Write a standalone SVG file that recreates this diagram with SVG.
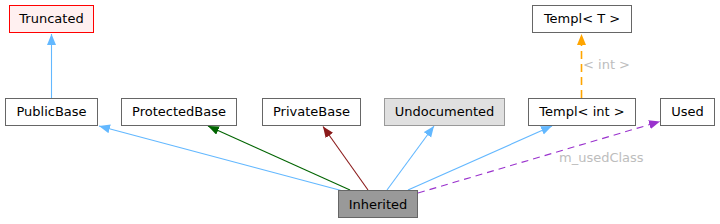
<svg xmlns="http://www.w3.org/2000/svg" width="720" height="224" viewBox="0 0 720 224">
<defs>
<style>
.n rect{fill:#fff;stroke:#666;stroke-width:1}
.n text{font-family:"DejaVu Sans",sans-serif;font-size:13px;fill:#000;text-anchor:middle}
.lbl{font-family:"DejaVu Sans",sans-serif;font-size:13px;fill:#bdbdbd}
.e{fill:none;stroke-width:1.1}
.blue{stroke:#63b8ff}
.green{stroke:#006400}
.red{stroke:#8b1a1a}
.purple{stroke:#9a32cd;stroke-dasharray:7,5}
.orange{stroke:#ffa500;stroke-width:1.6;stroke-dasharray:8,5}
</style>
<marker id="ab" markerUnits="userSpaceOnUse" markerWidth="12" markerHeight="10" refX="11" refY="4.5" orient="auto"><path d="M0,0 L11,4.5 L0,9 Z" fill="#63b8ff"/></marker>
<marker id="ag" markerUnits="userSpaceOnUse" markerWidth="12" markerHeight="10" refX="11" refY="4.5" orient="auto"><path d="M0,0 L11,4.5 L0,9 Z" fill="#006400"/></marker>
<marker id="ar" markerUnits="userSpaceOnUse" markerWidth="12" markerHeight="10" refX="11" refY="4.5" orient="auto"><path d="M0,0 L11,4.5 L0,9 Z" fill="#8b1a1a"/></marker>
<marker id="ap" markerUnits="userSpaceOnUse" markerWidth="12" markerHeight="10" refX="11" refY="4.5" orient="auto"><path d="M0,0 L11,4.5 L0,9 Z" fill="#9a32cd"/></marker>
<marker id="ao" markerUnits="userSpaceOnUse" markerWidth="12" markerHeight="10" refX="11" refY="4.5" orient="auto"><path d="M0,0 L11,4.5 L0,9 Z" fill="#ffa500"/></marker>
</defs>
<g id="edges">
<path class="e blue" d="M51.5,98 L51.5,34" marker-end="url(#ab)"/>
<path class="e blue" d="M343,191 L99,126" marker-end="url(#ab)"/>
<path class="e green" d="M350,190 L208,126" marker-end="url(#ag)"/>
<path class="e red" d="M368,190 L323,126.5" marker-end="url(#ar)"/>
<path class="e blue" d="M387,190 L434,126" marker-end="url(#ab)"/>
<path class="e blue" d="M408,190 L552,126" marker-end="url(#ab)"/>
<path class="e purple" d="M418,193 L660,121.5" marker-end="url(#ap)"/>
<text class="lbl" x="559" y="162">m_usedClass</text>
<path class="e orange" d="M581.5,98 L581.5,34" marker-end="url(#ao)"/>
<text class="lbl" x="583" y="69">&lt; int &gt;</text>
</g>
<g id="Truncated" class="n"><rect x="9.5" y="5.5" width="84" height="27" style="fill:#fff0f0;stroke:#ff0000"/><text x="51.5" y="23">Truncated</text></g>
<g id="PublicBase" class="n"><rect x="5.5" y="98.5" width="92" height="27"/><text x="51.5" y="116">PublicBase</text></g>
<g id="ProtectedBase" class="n"><rect x="121.5" y="98.5" width="115" height="27"/><text x="179" y="116">ProtectedBase</text></g>
<g id="PrivateBase" class="n"><rect x="262.5" y="98.5" width="98" height="27"/><text x="311.5" y="116">PrivateBase</text></g>
<g id="Undocumented" class="n"><rect x="384.5" y="98.5" width="120" height="27" style="fill:#e0e0e0;stroke:#999"/><text x="444.5" y="116">Undocumented</text></g>
<g id="TemplT" class="n"><rect x="532.5" y="5.5" width="99" height="27"/><text x="582" y="23">Templ&lt; T &gt;</text></g>
<g id="TemplInt" class="n"><rect x="528.5" y="98.5" width="107" height="27"/><text x="582" y="116">Templ&lt; int &gt;</text></g>
<g id="Used" class="n"><rect x="660.5" y="98.5" width="54" height="27"/><text x="687.5" y="116">Used</text></g>
<g id="Inherited" class="n"><rect x="338.5" y="190.5" width="79" height="27" style="fill:#999;stroke:#666"/><text x="378" y="209">Inherited</text></g>
</svg>
